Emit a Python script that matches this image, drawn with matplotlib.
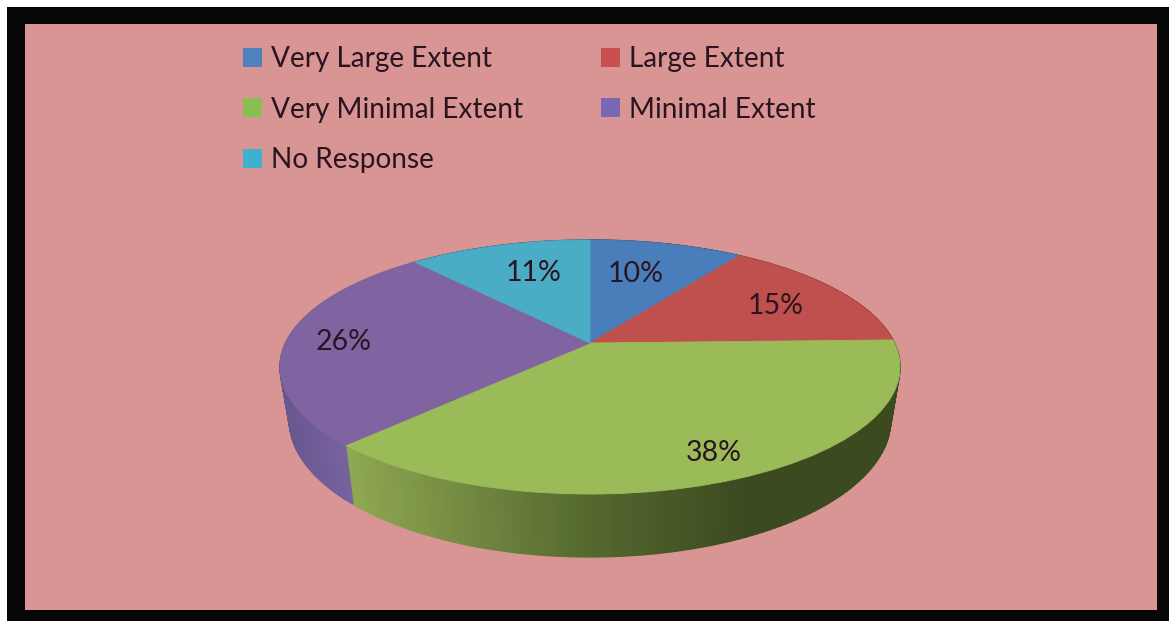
import numpy as np
import matplotlib
matplotlib.use('Agg')
import matplotlib.pyplot as plt
from matplotlib.patches import Rectangle
from matplotlib.colors import to_rgb
from matplotlib.transforms import Transform

# data
categories = ['Very Large Extent', 'Large Extent', 'Very Minimal Extent', 'Minimal Extent', 'No Response']
values = [9.6, 15.0, 37.6, 26.4, 11.4]
top_colors = ['#4a7ebb', '#c0504d', '#9bbb59', '#8064a2', '#4bacc6']
legend_colors = ['#4f81c0', '#c8504e', '#88bf50', '#7a68b5', '#3fb0cf']

# where the percent labels sit, in pixels
label_xy = [(636, 274), (776, 306), (714, 453), (344, 342), (534, 273)]

plt.rcParams['font.family'] = ['Lato', 'DejaVu Sans']
text_color = '#2a1420'

W, H = 1169, 621
CX, CY = 590, 343
TILT = 0.189
AX, AY = 304.4, 122.5
DEPTH = 51
TAPER = 0.97


class PieTilt(Transform):
    # unit circle -> pixels, with the perspective of the 3D pie
    input_dims = 2
    output_dims = 2

    def transform_non_affine(self, pts):
        pts = np.asarray(pts)
        d = 1 + TILT * pts[:, 1]
        return np.column_stack([CX + AX * pts[:, 0] / d, CY - AY * pts[:, 1] / d])


def mix(a, b, k):
    a, b = np.array(to_rgb(a)), np.array(to_rgb(b))
    return tuple(a + (b - a) * k)


def wall_color(i, x):
    if i == 2:
        k = np.clip((x - 350) / 400, 0, 1)
        if k < 0.6:
            return mix('#8fa852', '#55692f', k / 0.6)
        return mix('#55692f', '#3c4a20', (k - 0.6) / 0.4)
    if i == 3:
        return mix('#6a5790', '#76639f', np.clip((x - 285) / 60, 0, 1))
    return mix(top_colors[i], '#000000', 0.4)


fig = plt.figure(figsize=(W / 100, H / 100), dpi=100, facecolor='white')
ax = fig.add_axes([0, 0, 1, 1])
proj = PieTilt()

wedges, _ = ax.pie(values, colors=top_colors, startangle=90, counterclock=False,
                   wedgeprops={'transform': proj + ax.transData, 'zorder': 3, 'linewidth': 0.6})
for w, c in zip(wedges, top_colors):
    w.set_edgecolor(c)

ax.set_aspect('auto')
ax.set_xlim(0, W)
ax.set_ylim(H, 0)
ax.axis('off')

# frame
ax.add_patch(Rectangle((7, 7), W - 7, H - 7, facecolor='#060606', edgecolor='none', zorder=0))
ax.add_patch(Rectangle((25, 24), 1132, 586, facecolor='#d99594', edgecolor='none', zorder=0.5))

# side of the pie, strip by strip
edges = np.cumsum([0] + values) / sum(values)
for i in range(len(values)):
    ts = np.radians(90 - 360 * np.linspace(edges[i], edges[i + 1], 121))
    u, v = np.cos(ts), np.sin(ts)
    top = proj.transform_non_affine(np.column_stack([u, v]))
    d = 1 + TILT * v
    bx = CX + (top[:, 0] - CX) * TAPER
    by = top[:, 1] + DEPTH / d
    for j in range(len(ts) - 1):
        col = wall_color(i, top[j, 0])
        ax.fill([top[j, 0], top[j + 1, 0], bx[j + 1], bx[j]],
                [top[j, 1], top[j + 1, 1], by[j + 1], by[j]],
                facecolor=col, edgecolor=col, linewidth=1.0, zorder=2)

# percent labels
for val, (x, y) in zip(values, label_xy):
    ax.text(x, y, f'{val:.0f}%', fontsize=20.5, color=text_color, ha='center', va='center', zorder=5)

# legend
handles = [Rectangle((0, 0), 1, 1, facecolor=c, edgecolor='none') for c in legend_colors]
order = [0, 2, 4, 1, 3]
leg = ax.legend([handles[i] for i in order], [categories[i] for i in order], ncols=2,
                loc='upper left', bbox_to_anchor=(243 / W, 1 - 46 / H), frameon=False,
                fontsize=20.2, labelcolor=text_color, handlelength=0.68, handleheight=0.68,
                handletextpad=0.32, labelspacing=0.88, columnspacing=2.78, borderpad=0, borderaxespad=0)
leg.set_zorder(6)

fig.savefig('out.png', dpi=100)
print('[INFO] Done')
